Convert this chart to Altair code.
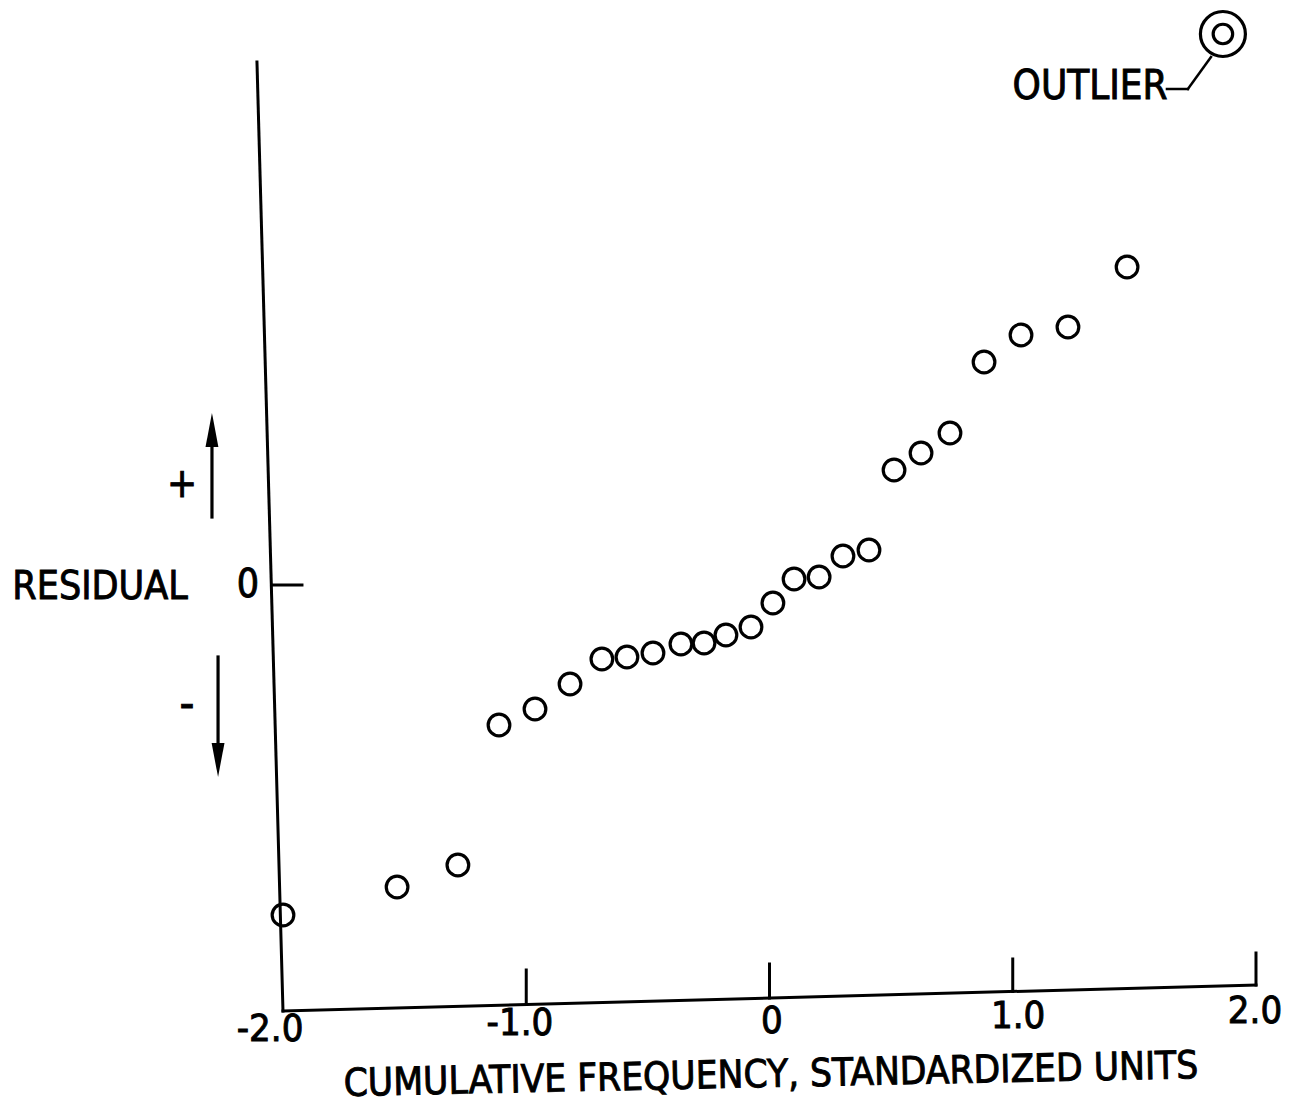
import altair as alt
import pandas as pd

# Normal probability plot of residuals (standardized cumulative frequency vs residual)
cum_freq = [-2.000, -1.531, -1.281, -1.112, -0.964, -0.820, -0.689, -0.586, -0.479,
            -0.364, -0.269, -0.179, -0.076, 0.014, 0.101, 0.204, 0.302, 0.409,
            0.512, 0.623, 0.742, 0.882, 1.034, 1.227, 1.470]
residual = [-3.30, -3.02, -2.80, -1.40, -1.24, -0.99, -0.74, -0.72, -0.68,
            -0.59, -0.58, -0.50, -0.42, -0.18, 0.06, 0.08, 0.29, 0.35,
            1.15, 1.32, 1.52, 2.23, 2.50, 2.58, 3.18]

outlier_x = [1.864]
outlier_y = [5.51]

tick_values = [-2.0, -1.0, 0.0, 1.0, 2.0]
tick_labels = ["-2.0", "-1.0", "0", "1.0", "2.0"]

W, H = 1289, 1109
FONT = "Liberation Sans Narrow, DejaVu Sans Condensed, sans-serif"

xs = alt.Scale(domain=[-3.1634, 2.1357], nice=False, zero=False)
ys = alt.Scale(domain=[-5.24, 5.85], nice=False, zero=False)
X = lambda f: alt.X(f, type="quantitative", scale=xs, axis=None)
Y = lambda f: alt.Y(f, type="quantitative", scale=ys, axis=None)

# hand-drawn frame: axis lines, ticks, arrows and the outlier leader
segments = pd.DataFrame([
    # (x, y, x2, y2, width)
    (-2.107, 5.23, -2.000, -4.26, 3.0),     # residual axis
    (-2.000, -4.26, 2.000, -4.00, 3.0),     # frequency axis
    (-1.0, -4.195, -1.0, -3.85, 3.0),
    (0.0, -4.13, 0.0, -3.79, 3.0),
    (1.0, -4.065, 1.0, -3.74, 3.0),
    (2.0, -4.00, 2.0, -3.68, 3.0),
    (-2.045, 0.0, -1.922, 0.0, 3.0),        # zero tick
    (-2.292, 0.68, -2.292, 1.45, 3.2),      # + arrow shaft
    (-2.267, -0.72, -2.267, -1.65, 3.2),    # - arrow shaft
    (1.634, 4.96, 1.720, 4.96, 2.5),        # leader, horizontal
    (1.720, 4.96, 1.815, 5.28, 2.5),        # leader, diagonal
], columns=["x", "y", "x2", "y2", "w"])

rules = alt.Chart(segments).mark_rule(color="black", strokeCap="square").encode(
    x=X("x"), y=Y("y"), x2="x2", y2="y2",
    strokeWidth=alt.StrokeWidth("w:Q", scale=None),
)

arrow_heads = pd.DataFrame({
    "x": [-2.292, -2.267],
    "y": [1.55, -1.75],
    "shape": ["M0,-1L0.38,1L-0.38,1Z", "M0,1L0.38,-1L-0.38,-1Z"],
})
heads = alt.Chart(arrow_heads).mark_point(filled=True, color="black", size=1150, opacity=1).encode(
    x=X("x"), y=Y("y"), shape=alt.Shape("shape:N", scale=None),
)

points = alt.Chart(pd.DataFrame({"f": cum_freq, "r": residual})).mark_point(
    shape="circle", size=470, color="black", strokeWidth=3.2, filled=False, opacity=1
).encode(x=X("f"), y=Y("r"))

out_df = pd.DataFrame({"f": outlier_x * 2, "r": outlier_y * 2, "s": [2025, 380]})
outlier = alt.Chart(out_df).mark_point(
    shape="circle", color="black", strokeWidth=3.2, filled=False, opacity=1
).encode(x=X("f"), y=Y("r"), size=alt.Size("s:Q", scale=None))

TXT = dict(font=FONT, color="black", stroke="black", strokeWidth=0.9, baseline="middle")

tick_df = pd.DataFrame({
    "t": tick_labels,
    "x": [-2.053, -1.026, 0.010, 1.022, 1.996],
    "y": [-4.45, -4.39, -4.37, -4.32, -4.27],
})
tick_text = alt.Chart(tick_df).mark_text(fontSize=38, **TXT).encode(
    x=X("x"), y=Y("y"), text="t:N"
)

labels = pd.DataFrame({
    "t": ["RESIDUAL", "0", "+", "-", "OUTLIER"],
    "x": [-2.752, -2.144, -2.415, -2.395, 1.318],
    "y": [-0.02, 0.0, 1.00, -1.20, 4.98],
    "s": [39, 39, 40, 46, 40],
})
label_text = alt.Chart(labels).mark_text(**TXT).encode(
    x=X("x"), y=Y("y"), text="t:N", size=alt.Size("s:Q", scale=None)
)

title_df = pd.DataFrame({"t": ["CUMULATIVE FREQUENCY, STANDARDIZED UNITS"], "x": [0.006], "y": [-4.90]})
title_text = alt.Chart(title_df).mark_text(fontSize=38.5, angle=358.8, **TXT).encode(
    x=X("x"), y=Y("y"), text="t:N"
)

chart = alt.layer(rules, heads, points, outlier, tick_text, label_text, title_text).properties(
    width=W, height=H, autosize="none", padding=0, background="white"
).configure_view(stroke=None)

chart.save("out.html", embed_options={"renderer": "svg", "actions": False})
